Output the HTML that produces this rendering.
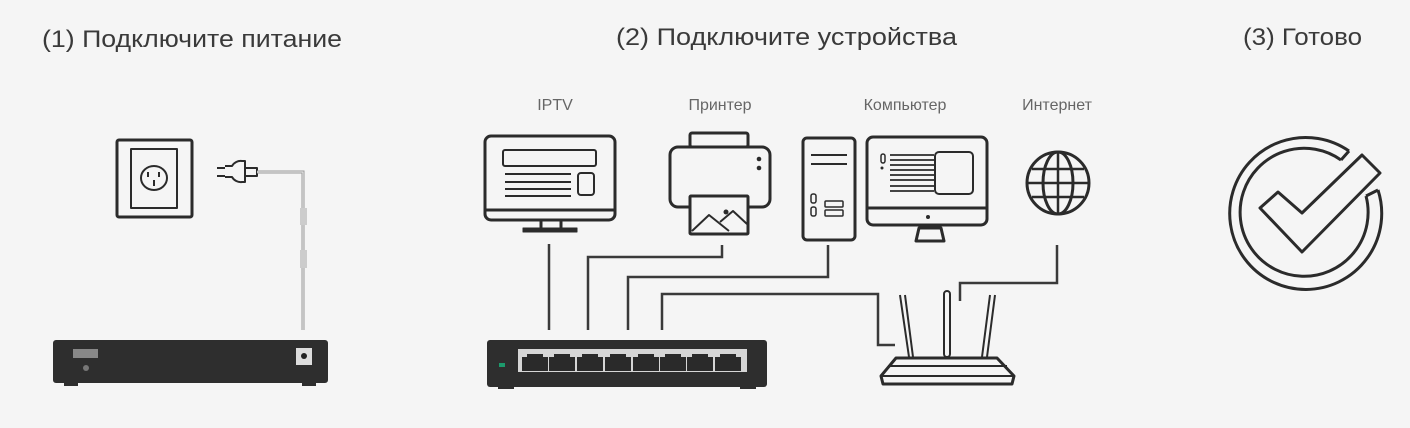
<!DOCTYPE html>
<html><head><meta charset="utf-8"><style>
html,body{margin:0;padding:0;background:#f5f5f5;}
svg{display:block;}
text{font-family:"Liberation Sans","Noto Sans CJK SC",sans-serif;fill:#333;}
</style></head><body>
<svg width="1410" height="428" viewBox="0 0 1410 428" xmlns="http://www.w3.org/2000/svg">
<rect width="1410" height="428" fill="#f5f5f5"/>
<text x="42" y="47" font-size="24" textLength="300" lengthAdjust="spacingAndGlyphs" style="fill:#3a3a3a">(1) Подключите питание</text>
<text x="616" y="45" font-size="24" textLength="341" lengthAdjust="spacingAndGlyphs" style="fill:#3a3a3a">(2) Подключите устройства</text>
<text x="1243" y="45" font-size="24" textLength="119" lengthAdjust="spacingAndGlyphs" style="fill:#3a3a3a">(3) Готово</text>
<g font-size="16" text-anchor="middle">
<text x="555" y="110" style="fill:#666">IPTV</text>
<text x="720" y="110" style="fill:#666">Принтер</text>
<text x="905" y="110" style="fill:#666">Компьютер</text>
<text x="1057" y="110" style="fill:#666">Интернет</text>
</g>
<g fill="none" stroke="#2b2b2b" stroke-width="3" stroke-linejoin="round">
<rect x="117" y="140" width="75" height="77" rx="2"/>
<rect x="131" y="149" width="46" height="59" stroke-width="2"/>
<ellipse cx="154" cy="178" rx="13" ry="12" stroke-width="2"/>
<path d="M148 172v5M159 172v5M154 180v6" stroke-width="2"/>
<path d="M225 166 h7 a10 10 0 0 1 10 -5 v0 h3 v21 h-3 a10 10 0 0 1 -10 -5 h-7" stroke-width="2"/>
<path d="M217 168h8M217 176h8" stroke-width="2"/>
<path d="M245 168h12v8h-12" stroke-width="2"/>
</g>
<path d="M257 172 H303 V330" fill="none" stroke="#999" stroke-width="3"/>
<path d="M257 172 H303 V330" fill="none" stroke="#eee" stroke-width="1"/>
<rect x="300" y="208" width="7" height="17" fill="#ccc"/>
<rect x="300" y="250" width="7" height="18" fill="#ccc"/>
<rect x="53" y="340" width="275" height="43" rx="3" fill="#2e2e2e"/>
<rect x="64" y="382" width="14" height="4" fill="#2e2e2e"/><rect x="302" y="382" width="14" height="4" fill="#2e2e2e"/>
<rect x="73" y="349" width="25" height="9" fill="#888"/>
<circle cx="86" cy="368" r="3" fill="#777"/>
<rect x="296" y="348" width="16" height="17" fill="#ddd"/>
<circle cx="304" cy="356" r="3" fill="#222"/>
<g fill="none" stroke="#2b2b2b" stroke-width="3" stroke-linejoin="round">
<rect x="485" y="136" width="130" height="84" rx="6"/>
<path d="M486 210h128"/>
<rect x="503" y="150" width="93" height="16" rx="2" stroke-width="2"/>
<path d="M505 174h66M505 182h66M505 189h66M505 196h66" stroke-width="2"/>
<rect x="578" y="173" width="16" height="22" rx="3" stroke-width="2"/>
<path d="M541 220v8M561 220v8"/>
<rect x="523" y="228" width="54" height="4" fill="#2b2b2b" stroke-width="1"/>
<rect x="690" y="133" width="58" height="14" rx="2"/>
<rect x="670" y="147" width="100" height="60" rx="8"/>
<rect x="690" y="196" width="58" height="38" rx="1" fill="#f5f5f5"/>
<path d="M692 231 l17 -16 l20 16 M720 222 l13 -11 l14 13" stroke-width="2"/>
<rect x="803" y="138" width="52" height="102" rx="4"/>
<path d="M811 155h36M811 164h36" stroke-width="2"/>
<rect x="811" y="194" width="5" height="9" rx="2" stroke-width="1.5"/><rect x="811" y="207" width="5" height="9" rx="2" stroke-width="1.5"/>
<rect x="825" y="201" width="18" height="6" rx="1" stroke-width="1.5"/><rect x="825" y="210" width="18" height="6" rx="1" stroke-width="1.5"/>
<rect x="867" y="137" width="120" height="88" rx="6"/>
<path d="M868 208h118"/>
<rect x="935" y="152" width="38" height="42" rx="4" stroke-width="2"/>
<path d="M890 155h44M890 160h44M890 165h44M890 170h44M890 175h44M890 180h44M890 186h44M890 191h44" stroke-width="1.8"/>
<rect x="881" y="154" width="4" height="9" rx="2" stroke-width="1.5"/>
<path d="M919 228 l-3 13 h28 l-3 -13z"/>
<circle cx="1058" cy="183" r="31"/>
<ellipse cx="1058" cy="183" rx="15" ry="31"/>
<path d="M1058 152v62M1027 183h62M1032 169h52M1032 197h52" stroke-width="2.5"/>
</g>
<circle cx="928" cy="217" r="2" fill="#2b2b2b"/>
<circle cx="759" cy="159" r="2.3" fill="#2b2b2b"/><circle cx="759" cy="168" r="2.3" fill="#2b2b2b"/>
<circle cx="726" cy="212" r="2.5" fill="#2b2b2b"/>
<circle cx="882" cy="168" r="1.5" fill="#2b2b2b"/>
<g fill="none" stroke="#3a3a3a" stroke-width="2.5">
<path d="M549 244V330"/>
<path d="M722 245V257H588V330"/>
<path d="M828 245V277H628V330"/>
<path d="M662 330V294H878V345H895"/>
<path d="M1057 245V283H960V301"/>
</g>
<rect x="487" y="340" width="280" height="47" rx="3" fill="#2e2e2e"/>
<rect x="498" y="385" width="16" height="4" fill="#2e2e2e"/><rect x="740" y="385" width="16" height="4" fill="#2e2e2e"/>
<rect x="518" y="349" width="229" height="23" fill="#d6d6d6"/>
<rect x="499" y="363" width="6" height="4" fill="#1c9a6c"/>
<g fill="#2a2a2a">
<path d="M522 371v-14h5v-3h16v3h5v14z"/>
<path d="M549 371v-14h5v-3h16v3h5v14z"/>
<path d="M577 371v-14h5v-3h16v3h5v14z"/>
<path d="M605 371v-14h5v-3h16v3h5v14z"/>
<path d="M633 371v-14h5v-3h16v3h5v14z"/>
<path d="M660 371v-14h5v-3h16v3h5v14z"/>
<path d="M687 371v-14h5v-3h16v3h5v14z"/>
<path d="M715 371v-14h5v-3h16v3h5v14z"/>
</g>
<g fill="none" stroke="#2b2b2b" stroke-width="3" stroke-linejoin="round">
<path d="M900 295 l9 62 M905 295 l8 62" stroke-width="2"/>
<rect x="944" y="291" width="6" height="66" rx="3" stroke-width="2"/>
<path d="M990 295 l-8 62 M995 295 l-8 62" stroke-width="2"/>
<path d="M896 358 H997 L1014 376 L1012 384 H883 L881 376 Z" fill="#f5f5f5"/>
<path d="M888 366h119M882 376h131" stroke-width="2"/>
</g>
<g fill="none" stroke="#2b2b2b" stroke-width="3" stroke-linejoin="round">
<path d="M1349 151 A76 76 0 1 0 1378 190"/>
<path d="M1341 160 A64 64 0 1 0 1366 196"/>
<path d="M1349 151 L1341 160 M1378 190 L1366 196"/>
<path d="M1260 208 L1278 192 L1302 213 L1362 155 L1380 173 L1302 252 Z"/>
</g>
</svg>
</body></html>
